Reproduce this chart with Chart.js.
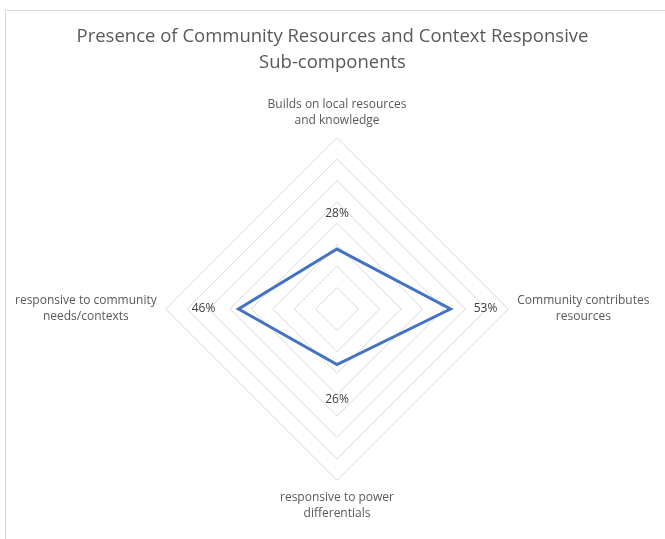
<!DOCTYPE html>
<html>
<head>
<meta charset="utf-8">
<script src="https://cdn.jsdelivr.net/npm/chart.js@4"></script>
<style>
  html, body { margin: 0; padding: 0; background: #fff; overflow: hidden; }
  #frame {
    position: absolute; left: 5px; top: 10px; width: 700px; height: 560px;
    border: 1px solid #d9d9d9; box-sizing: border-box;
  }
  #wrap { position: absolute; left: 0; top: 0; width: 665px; height: 539px; }
</style>
</head>
<body>
<div id="frame"></div>
<div id="wrap"><canvas id="chart"></canvas></div>
<script>
// Sub-component labels (clockwise from top)
const categories = [
  ['Builds on local resources', 'and knowledge'],
  ['Community contributes', 'resources'],
  ['responsive to power', 'differentials'],
  ['responsive to community', 'needs/contexts']
];
// Share of programmes with each sub-component (%)
const presence = [28, 53, 26, 46];
const tickStep = 10;
const tickMax = 80;

const fontFamily = "'Open Sans', 'Noto Sans', sans-serif";
const textColor = '#595959';
const labelSize = 12;
const labelPad = 9;

// Axis labels drawn centred per line (the built-in ones are kept for layout only)
const centredLabels = {
  id: 'centredLabels',
  afterDraw(chart) {
    const scale = chart.scales.r;
    const ctx = chart.ctx;
    const lineH = 16;
    ctx.save();
    ctx.font = labelSize + 'px ' + fontFamily;
    ctx.fillStyle = textColor;
    ctx.textAlign = 'center';
    ctx.textBaseline = 'middle';
    categories.forEach((lines, i) => {
      const w = Math.max(...lines.map(l => ctx.measureText(l).width));
      const h = lines.length * lineH;
      const p = scale.getPointPosition(i, scale.drawingArea + labelPad);
      let cx = p.x, cy = p.y;
      if (i === 0) cy = p.y - h / 2;
      if (i === 2) cy = p.y + h / 2;
      if (i === 1) cx = p.x + w / 2;
      if (i === 3) cx = p.x - w / 2;
      lines.forEach((l, k) => {
        ctx.fillText(l, cx, cy - h / 2 + lineH * (k + 0.5));
      });
    });
    ctx.restore();
  }
};

// Percent labels sit a little outside each vertex
const valueLabels = {
  id: 'valueLabels',
  afterDatasetsDraw(chart) {
    const scale = chart.scales.r;
    const ctx = chart.ctx;
    ctx.save();
    ctx.font = labelSize + 'px ' + fontFamily;
    ctx.fillStyle = '#404040';
    ctx.textAlign = 'center';
    ctx.textBaseline = 'middle';
    presence.forEach((v, i) => {
      const dist = scale.getDistanceFromCenterForValue(v) + 35;
      const p = scale.getPointPosition(i, dist);
      ctx.fillText(v + '%', p.x, p.y);
    });
    ctx.restore();
  }
};

new Chart(document.getElementById('chart'), {
  type: 'radar',
  data: {
    labels: categories,
    datasets: [{
      data: presence,
      borderColor: '#4472C4',
      borderWidth: 3,
      backgroundColor: 'transparent',
      fill: false,
      pointRadius: 0,
      pointHoverRadius: 0,
      tension: 0
    }]
  },
  options: {
    responsive: true,
    maintainAspectRatio: false,
    animation: false,
    layout: { padding: { left: 10, right: 10, top: 4, bottom: 14 } },
    plugins: {
      legend: { display: false },
      tooltip: { enabled: false },
      title: {
        display: true,
        text: ['Presence of Community Resources and Context Responsive', 'Sub-components'],
        color: textColor,
        font: { family: fontFamily, size: 18.5, weight: 'normal', lineHeight: 1.4 },
        padding: { top: 20, bottom: 19 }
      }
    },
    scales: {
      r: {
        min: 0,
        max: tickMax,
        ticks: { stepSize: tickStep, display: false },
        grid: { color: '#d9d9d9', lineWidth: 1 },
        angleLines: { display: false },
        pointLabels: {
          color: 'transparent',
          font: { family: fontFamily, size: labelSize, lineHeight: 16 / labelSize },
          padding: labelPad
        }
      }
    }
  },
  plugins: [valueLabels, centredLabels]
});
</script>
</body>
</html>
